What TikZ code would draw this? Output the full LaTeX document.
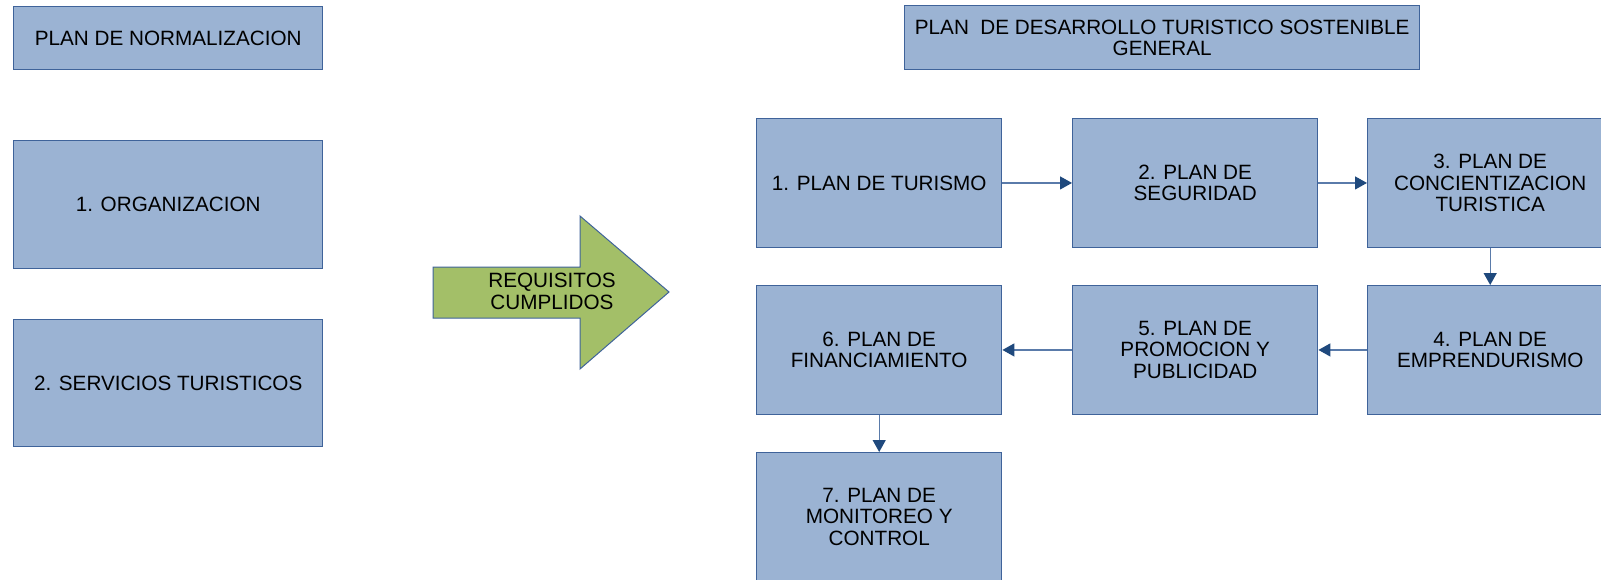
\documentclass[tikz,border=0pt]{standalone}
\usepackage{fontspec}
\setmainfont{Liberation Sans}
\usetikzlibrary{arrows.meta}
\definecolor{boxfill}{HTML}{9BB3D3}
\definecolor{boxedge}{HTML}{3F639A}
\definecolor{linecol}{HTML}{5A7BAA}
\definecolor{headcol}{HTML}{1F497D}
\definecolor{arrowfill}{HTML}{A3BF68}
\tikzset{
  box/.style={draw=boxedge, fill=boxfill, line width=1.4pt, anchor=north west,
    minimum width=245pt, minimum height=128.5pt, align=center, inner sep=0pt,
    font=\fontsize{20.7}{21.6}\selectfont},
  lbox/.style={box, minimum width=309pt, minimum height=127.5pt},
  conn/.style={draw=linecol, line width=1.3pt,
    -{Triangle[length=12pt,width=13pt,fill=headcol,color=headcol]}}
}
\begin{document}
\begin{tikzpicture}[x=1pt,y=-1pt]
\clip (0,0) rectangle (1601,579);
\fill[white] (0,0) rectangle (1601,579);
% left column
\node[lbox, minimum height=63pt] (norm) at (13,6) {PLAN DE NORMALIZACION};
\node[lbox] (org) at (13,140) {1. ORGANIZACION};
\node[lbox] (serv) at (13,318.5) {2. SERVICIOS TURISTICOS};
% big arrow
\draw[draw=boxedge, fill=arrowfill, line width=1pt, line join=miter]
  (433,267) -- (580,267) -- (580,216) -- (669,292) -- (580,369) -- (580,318) -- (433,318) -- cycle;
\node[align=center, inner sep=0pt, font=\fontsize{20.7}{21.6}\selectfont] (req) at (552,291.5) {REQUISITOS\\CUMPLIDOS};
% title
\node[box, minimum width=515pt, minimum height=64pt] (title) at (904,5) {PLAN\ \ DE DESARROLLO TURISTICO SOSTENIBLE\\GENERAL};
% plans
\node[box] (p1) at (756,118) {1. PLAN DE TURISMO};
\node[box] (p2) at (1072,118) {2. PLAN DE\\SEGURIDAD};
\node[box] (p3) at (1367,118) {3. PLAN DE\\CONCIENTIZACION\\TURISTICA};
\node[box] (p4) at (1367,285) {4. PLAN DE\\EMPRENDURISMO};
\node[box] (p5) at (1072,285) {5. PLAN DE\\PROMOCION Y\\PUBLICIDAD};
\node[box] (p6) at (756,285) {6. PLAN DE\\FINANCIAMIENTO};
\node[box] (p7) at (756,452) {7. PLAN DE\\MONITOREO Y\\CONTROL};
% connectors
\draw[conn] (p1.east) -- (p2.west);
\draw[conn] (p2.east) -- (p3.west);
\draw[conn] (p3.south) -- (p4.north);
\draw[conn] (p4.west) -- (p5.east);
\draw[conn] (p5.west) -- (p6.east);
\draw[conn] (p6.south) -- (p7.north);
\end{tikzpicture}
\end{document}
